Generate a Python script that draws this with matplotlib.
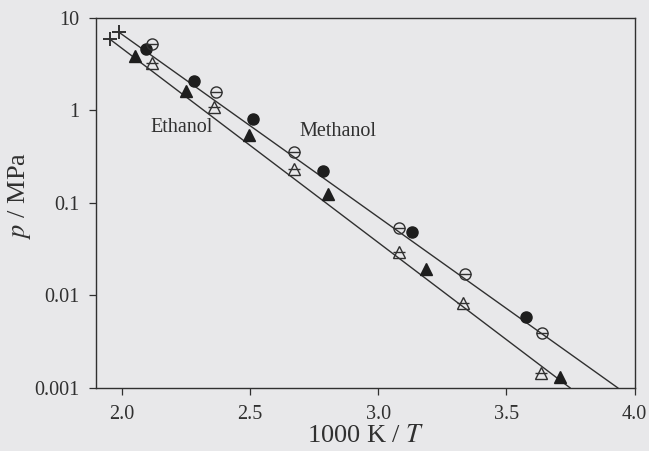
import numpy as np
import matplotlib.pyplot as plt

plt.rcParams['font.family'] = ['Liberation Serif', 'DejaVu Serif']
plt.rcParams['mathtext.fontset'] = 'stix'

ink = '#303030'
paper = '#e8e8ea'

# methanol (upper line)
meoh_x_filled = [2.093, 2.283, 2.513, 2.784, 3.130, 3.577]
meoh_p_filled = [4.62, 2.08, 0.81, 0.222, 0.0485, 0.00586]
meoh_x_open = [2.117, 2.369, 2.672, 3.080, 3.340, 3.639]
meoh_p_open = [5.24, 1.58, 0.356, 0.0537, 0.0171, 0.00394]
meoh_line_x = [1.988, 3.934]
meoh_line_p = [7.06, 0.001]

# ethanol (lower line)
etoh_x_filled = [2.050, 2.249, 2.497, 2.804, 3.188, 3.709]
etoh_p_filled = [3.88, 1.63, 0.543, 0.125, 0.0193, 0.00131]
etoh_x_open = [2.117, 2.361, 2.672, 3.080, 3.332, 3.635]
etoh_p_open = [3.27, 1.09, 0.233, 0.0295, 0.0083, 0.00145]
etoh_line_x = [1.953, 3.748]
etoh_line_p = [5.93, 0.001]

# critical points
crit_x = [1.953, 1.988]
crit_p = [5.93, 7.06]

fig = plt.figure(figsize=(6.49, 4.51), dpi=100, facecolor=paper)
ax = fig.add_axes([0.148, 0.140, 0.830, 0.820], facecolor=paper)

ax.plot(meoh_line_x, meoh_line_p, color=ink, lw=1.0)
ax.plot(etoh_line_x, etoh_line_p, color=ink, lw=1.0)

ms = 8
ax.plot(meoh_x_filled, meoh_p_filled, 'o', ms=ms, color='#1e1e1e', ls='none')
ax.plot(meoh_x_open, meoh_p_open, 'o', ms=ms, mfc='none', mec=ink, mew=1.0, ls='none')
ax.plot(meoh_x_open, meoh_p_open, '_', ms=ms, mec=ink, mew=1.0, ls='none')
ax.plot(etoh_x_filled, etoh_p_filled, '^', ms=ms, color='#1e1e1e', ls='none')
ax.plot(etoh_x_open, etoh_p_open, '^', ms=ms, mfc='none', mec=ink, mew=1.0, ls='none')
ax.plot(etoh_x_open, etoh_p_open, '_', ms=ms, mec=ink, mew=1.0, ls='none')
ax.plot(crit_x, crit_p, '+', ms=10, mec=ink, mew=1.4, ls='none')

ax.text(2.233, 0.647, 'Ethanol', fontsize=14.5, color=ink, ha='center', va='center')
ax.text(2.843, 0.586, 'Methanol', fontsize=14.5, color=ink, ha='center', va='center')

ax.set_yscale('log')
ax.set_xlim(1.9, 4.0)
ax.set_ylim(0.001, 10)
ax.set_xticks([2.0, 2.5, 3.0, 3.5, 4.0])
ax.set_xticklabels(['2.0', '2.5', '3.0', '3.5', '4.0'])
ax.set_yticks([0.001, 0.01, 0.1, 1, 10])
ax.set_yticklabels(['0.001', '0.01', '0.1', '1', '10'])
ax.minorticks_off()
ax.tick_params(direction='out', length=5, width=0.9, colors=ink, labelsize=14.5, pad=7)
for s in ax.spines.values():
    s.set_color(ink)
    s.set_linewidth(1.0)

ax.set_xlabel('1000 K / $T$', fontsize=19, color=ink, labelpad=1)
ax.set_ylabel('$p$ / MPa', fontsize=19, color=ink)
ax.yaxis.set_label_coords(-0.117, 0.52)

fig.savefig('out.png', dpi=100, facecolor=paper)
